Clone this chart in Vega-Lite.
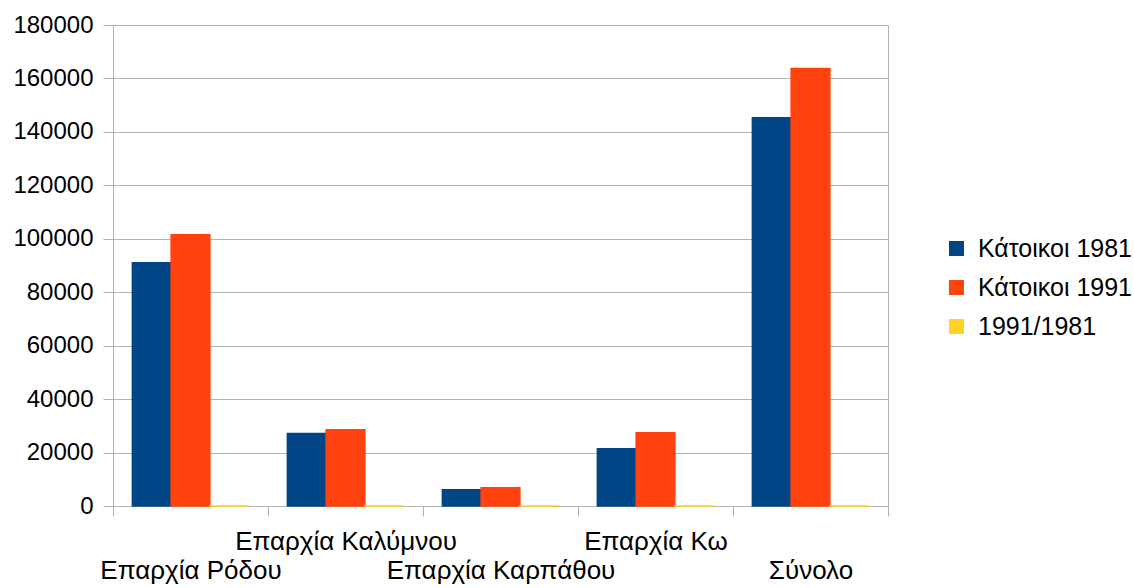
{
  "$schema": "https://vega.github.io/schema/vega-lite/v6.json",
  "autosize": "none",
  "width": 775,
  "height": 481,
  "padding": {"left": 113, "top": 25, "right": 246, "bottom": 82},
  "background": "white",
  "config": {
    "font": "Liberation Sans",
    "view": {"stroke": "#b3b3b3", "strokeWidth": 1}
  },
  "data": {
    "values": [
      {"region": "Επαρχία Ρόδου", "series": "Κάτοικοι 1981", "value": 91000},
      {"region": "Επαρχία Ρόδου", "series": "Κάτοικοι 1991", "value": 101500},
      {"region": "Επαρχία Ρόδου", "series": "1991/1981", "value": 1.11},
      {"region": "Επαρχία Καλύμνου", "series": "Κάτοικοι 1981", "value": 27100},
      {"region": "Επαρχία Καλύμνου", "series": "Κάτοικοι 1991", "value": 28500},
      {"region": "Επαρχία Καλύμνου", "series": "1991/1981", "value": 1.05},
      {"region": "Επαρχία Καρπάθου", "series": "Κάτοικοι 1981", "value": 6100},
      {"region": "Επαρχία Καρπάθου", "series": "Κάτοικοι 1991", "value": 6800},
      {"region": "Επαρχία Καρπάθου", "series": "1991/1981", "value": 1.11},
      {"region": "Επαρχία Κω", "series": "Κάτοικοι 1981", "value": 21400},
      {"region": "Επαρχία Κω", "series": "Κάτοικοι 1991", "value": 27400},
      {"region": "Επαρχία Κω", "series": "1991/1981", "value": 1.28},
      {"region": "Σύνολο", "series": "Κάτοικοι 1981", "value": 145300},
      {"region": "Σύνολο", "series": "Κάτοικοι 1991", "value": 163700},
      {"region": "Σύνολο", "series": "1991/1981", "value": 1.13}
    ]
  },
  "mark": {"type": "bar", "strokeWidth": 1.5},
  "encoding": {
    "x": {
      "field": "region",
      "type": "nominal",
      "sort": null,
      "scale": {"paddingInner": 0, "paddingOuter": 0},
      "axis": {
        "title": null,
        "labelAngle": 0,
        "labelFontSize": 26,
        "labelColor": "#000000",
        "labelFont": "Liberation Sans",
        "tickBand": "extent",
        "tickSize": 10,
        "tickColor": "#b3b3b3",
        "domainColor": "#b3b3b3",
        "labelPadding": {"condition": {"test": "datum.value === 'Επαρχία Καλύμνου' || datum.value === 'Επαρχία Κω'", "value": 12}, "value": 41},
        "labelOverlap": false,
        "labelLimit": 0
      }
    },
    "xOffset": {
      "field": "series",
      "type": "nominal",
      "sort": ["Κάτοικοι 1981", "Κάτοικοι 1991", "1991/1981"],
      "scale": {"paddingInner": 0, "paddingOuter": 0.5}
    },
    "y": {
      "field": "value",
      "type": "quantitative",
      "scale": {"domain": [0, 180000], "nice": false},
      "axis": {
        "title": null,
        "values": [0, 20000, 40000, 60000, 80000, 100000, 120000, 140000, 160000, 180000],
        "format": "d",
        "labelFontSize": 24,
        "labelColor": "#000000",
        "labelFont": "Liberation Sans",
        "labelPadding": 10,
        "tickSize": 10,
        "tickColor": "#b3b3b3",
        "domainColor": "#b3b3b3",
        "gridColor": "#b3b3b3"
      }
    },
    "color": {
      "field": "series",
      "type": "nominal",
      "sort": ["Κάτοικοι 1981", "Κάτοικοι 1991", "1991/1981"],
      "scale": {"domain": ["Κάτοικοι 1981", "Κάτοικοι 1991", "1991/1981"], "range": ["#004586", "#ff420e", "#ffd320"]},
      "legend": {
        "title": null,
        "orient": "none",
        "legendX": 831,
        "legendY": 211,
        "symbolType": "square",
        "symbolSize": 225,
        "symbolStrokeWidth": 0,
        "labelFontSize": 25,
        "labelColor": "#000000",
        "labelFont": "Liberation Sans",
        "rowPadding": 13,
        "labelOffset": 9,
        "labelLimit": 0
      }
    },
    "stroke": {
      "field": "series",
      "type": "nominal",
      "scale": {"domain": ["Κάτοικοι 1981", "Κάτοικοι 1991", "1991/1981"], "range": ["#004586", "#ff420e", "#ffd320"]},
      "legend": null
    }
  }
}
